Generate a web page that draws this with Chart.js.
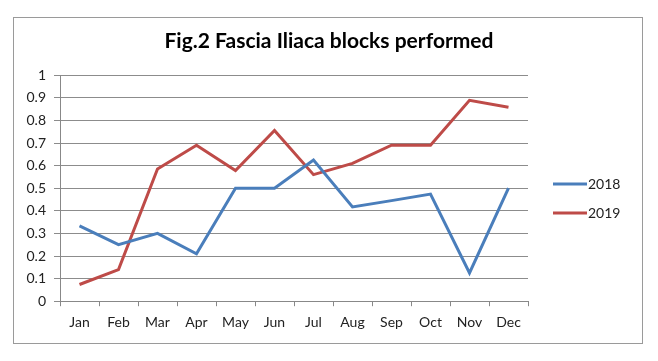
<!DOCTYPE html>
<html>
<head>
<meta charset="utf-8">
<script src="https://cdn.jsdelivr.net/npm/chart.js@4"></script>
<style>
  body { margin: 0; background: #fff; }
  #frame { position: absolute; left: 13px; top: 17px; width: 628px; height: 325px; border: 1px solid #9a9a9a; }
  canvas { position: absolute; left: 0; top: 0; }
</style>
</head>
<body>
<div id="frame"></div>
<canvas id="chart" width="658" height="361"></canvas>
<script>
// months on the x axis
const months = ['Jan', 'Feb', 'Mar', 'Apr', 'May', 'Jun', 'Jul', 'Aug', 'Sep', 'Oct', 'Nov', 'Dec'];

// proportion of blocks performed
const data2018 = [0.333, 0.25, 0.30, 0.21, 0.50, 0.50, 0.625, 0.417, 0.445, 0.474, 0.125, 0.50];
const data2019 = [0.074, 0.14, 0.585, 0.69, 0.578, 0.755, 0.56, 0.61, 0.69, 0.69, 0.889, 0.858];

const seriesNames = ['2018', '2019'];
const lineColors = ['#4a7ebb', '#be4b48'];

const fontFamily = 'Lato, "Liberation Sans", sans-serif';

// legend drawn to the right of the plot, like the excel one
const sideLegend = {
  id: 'sideLegend',
  afterDraw(chart) {
    const c = chart.ctx;
    const x0 = 553, lineLen = 34, y0 = 184, step = 29;
    c.save();
    c.font = '14px ' + fontFamily;
    c.textBaseline = 'middle';
    chart.data.datasets.forEach((ds, i) => {
      const y = y0 + i * step;
      c.strokeStyle = ds.borderColor;
      c.lineWidth = 3;
      c.beginPath();
      c.moveTo(x0, y);
      c.lineTo(x0 + lineLen, y);
      c.stroke();
      c.fillStyle = '#222';
      c.fillText(ds.label, x0 + lineLen + 1, y);
    });
    c.restore();
  }
};

const ctx = document.getElementById('chart');

new Chart(ctx, {
  type: 'line',
  data: {
    labels: months,
    datasets: [
      {
        label: seriesNames[0],
        data: data2018,
        borderColor: lineColors[0],
        backgroundColor: lineColors[0],
        borderWidth: 3,
        pointRadius: 0,
        tension: 0,
      },
      {
        label: seriesNames[1],
        data: data2019,
        borderColor: lineColors[1],
        backgroundColor: lineColors[1],
        borderWidth: 3,
        pointRadius: 0,
        tension: 0,
      },
    ],
  },
  options: {
    responsive: false,
    animation: false,
    layout: {
      padding: { left: 0, right: 0, top: 17, bottom: 22 }
    },
    plugins: {
      title: {
        display: true,
        text: 'Fig.2 Fascia Iliaca blocks performed',
        color: '#000',
        font: { family: fontFamily, size: 21, weight: 'bold' },
        padding: { top: 12, bottom: 21 }
      },
      legend: { display: false },
      tooltip: { enabled: false }
    },
    scales: {
      x: {
        offset: true,
        grid: {
          display: true,
          drawOnChartArea: false,
          offset: true,
          color: '#888',
          tickLength: 5
        },
        border: { color: '#888' },
        ticks: {
          color: '#222',
          padding: 8,
          autoSkip: false,
          maxRotation: 0,
          font: { family: fontFamily, size: 14 }
        }
      },
      y: {
        min: 0,
        max: 1,
        afterFit: (scale) => { scale.width = 60; },
        grid: {
          color: '#8c8c8c',
          tickLength: 6
        },
        border: { color: '#888' },
        ticks: {
          stepSize: 0.1,
          color: '#222',
          padding: 8,
          font: { family: fontFamily, size: 14 },
          callback: (v) => Math.round(v * 10) / 10
        }
      },
      // empty axis that only reserves room for the legend on the right
      spacer: {
        type: 'linear',
        position: 'right',
        afterFit: (scale) => { scale.width = 130; },
        grid: { display: false },
        border: { display: false },
        ticks: { display: false }
      }
    }
  },
  plugins: [sideLegend]
});
</script>
</body>
</html>
